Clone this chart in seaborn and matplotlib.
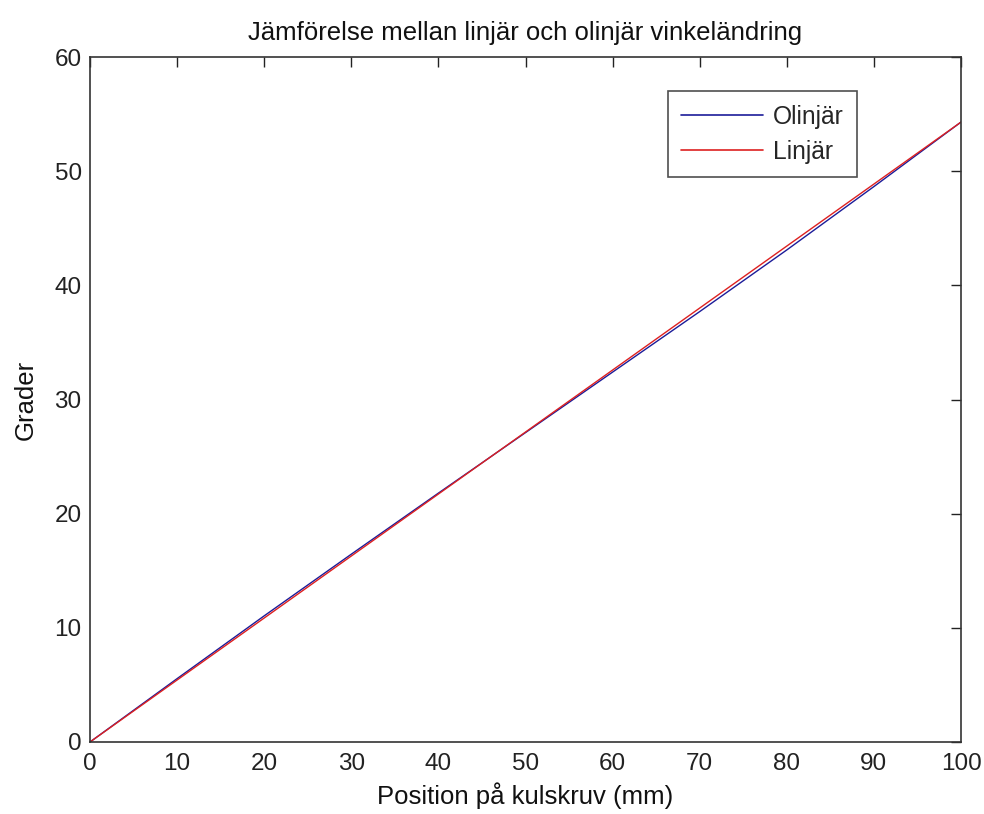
import numpy as np
import pandas as pd
import matplotlib
matplotlib.use("Agg")
import matplotlib.pyplot as plt
import seaborn as sns

# Data
position_mm = [0, 10, 20, 30, 40, 50, 60, 70, 80, 90, 100]
olinjar = [0.0, 5.55, 11.05, 16.45, 21.80, 27.10, 32.40, 37.70, 43.10, 48.65, 54.30]
linjar = [0.0, 5.43, 10.86, 16.29, 21.72, 27.15, 32.58, 38.01, 43.44, 48.87, 54.30]
series_names = ["Olinjär", "Linjär"]
series_colors = ["#1c1c99", "#dd2020"]
x_ticks = [0, 10, 20, 30, 40, 50, 60, 70, 80, 90, 100]
y_ticks = [0, 10, 20, 30, 40, 50, 60]

title_text = "Jämförelse mellan linjär och olinjär vinkeländring"
xlabel_text = "Position på kulskruv (mm)"
ylabel_text = "Grader"

df = pd.DataFrame({
    "x": position_mm * 2,
    "y": olinjar + linjar,
    "serie": [series_names[0]] * len(position_mm) + [series_names[1]] * len(position_mm),
})

sns.set_style("white")
plt.rcParams["font.family"] = ["Liberation Sans", "DejaVu Sans"]

fig = plt.figure(figsize=(9.84, 8.14), dpi=100)
ax = fig.add_axes([90 / 984, 1 - 742 / 814, (961 - 90) / 984, (742 - 57) / 814])

sns.lineplot(data=df, x="x", y="y", hue="serie", hue_order=series_names,
             palette=series_colors, linewidth=1.0, ax=ax, legend=True)

ax.set_xlim(0, 100)
ax.set_ylim(0, 60)
ax.set_xticks(x_ticks)
ax.set_yticks(y_ticks)
ax.tick_params(direction="in", length=7, width=1, top=True, right=True,
               labelsize=17.5, colors="#222222")
ax.tick_params(axis="x", pad=8)
ax.tick_params(axis="y", pad=6)
for s in ax.spines.values():
    s.set_color("#333333")
    s.set_linewidth(1.2)

ax.set_title(title_text, fontsize=18.5, pad=12, color="#111111")
ax.set_xlabel(xlabel_text, fontsize=18.5, labelpad=5, color="#111111")
ax.set_ylabel(ylabel_text, fontsize=18.5, labelpad=12, color="#111111")

leg = ax.legend(loc="upper right", bbox_to_anchor=((857 - 90) / 871, (742 - 91) / 685),
                fontsize=17.75, frameon=True, fancybox=False, edgecolor="#222222",
                handlelength=3.3, handletextpad=0.4, borderpad=0.55, labelspacing=0.45,
                borderaxespad=0)
leg.get_frame().set_linewidth(1.2)
for line in leg.get_lines():
    line.set_linewidth(1.2)

fig.savefig("out.png", dpi=100)
